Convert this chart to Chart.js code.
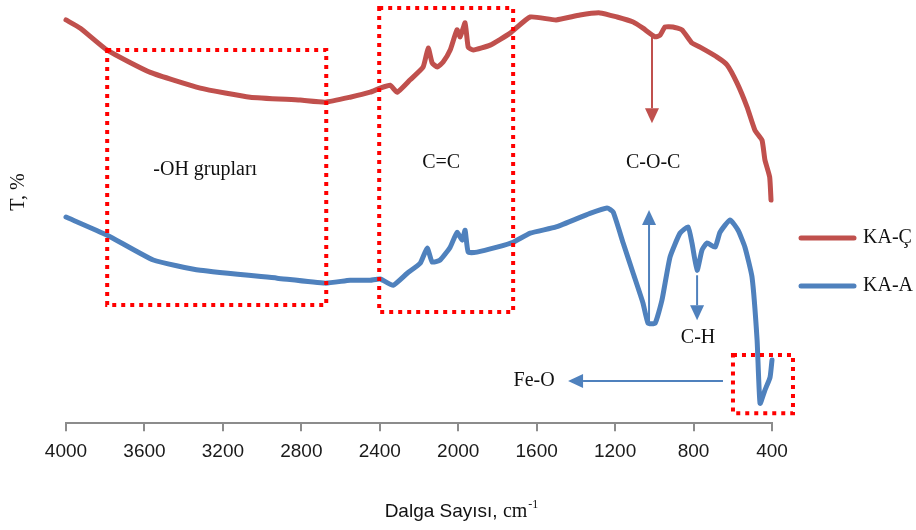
<!DOCTYPE html>
<html>
<head>
<meta charset="utf-8">
<script src="https://cdn.jsdelivr.net/npm/chart.js@4.4.1/dist/chart.umd.min.js"></script>
<style>
  html, body { margin: 0; padding: 0; background: #fff; }
</style>
</head>
<body>
<canvas id="ftir_chart" width="916" height="530"></canvas>
<script>
// data (wavenumber cm-1 / transmittance)
const seriesNames = ['KA-Ç', 'KA-A'];
const xTicks      = [4000, 3600, 3200, 2800, 2400, 2000, 1600, 1200, 800, 400];

const kaC_wn = [4000, 3927, 3790, 3570, 3315, 3061, 2806, 2678, 2551, 2449, 2398, 2347, 2311, 2245, 2179, 2153, 2133, 2107, 2077, 2041, 2006, 1990, 1965, 1949, 1924, 1837, 1735, 1633, 1501, 1379, 1277, 1190, 1108, 1058, 996, 971, 945, 905, 859, 808, 767, 680, 629, 578, 527, 487, 451, 436, 412, 405];
const kaC_T  = [97.6, 95.6, 90.3, 84.9, 81.1, 78.9, 78.2, 77.7, 78.9, 80.1, 81.1, 81.8, 80.1, 83.1, 86.2, 90.8, 87.2, 86.2, 87.4, 90.3, 95.2, 93.5, 96.9, 91.0, 90.3, 91.5, 94.4, 98.3, 97.6, 98.8, 99.3, 98.3, 97.1, 95.6, 93.5, 93.9, 95.9, 95.9, 95.2, 92.0, 91.0, 88.6, 86.7, 82.3, 76.5, 70.9, 68.5, 63.7, 59.6, 54.0];

const kaA_wn = [4000, 3790, 3555, 3315, 2923, 2678, 2551, 2449, 2398, 2332, 2260, 2194, 2158, 2133, 2092, 2041, 2006, 1980, 1965, 1949, 1904, 1802, 1720, 1633, 1501, 1328, 1241, 1210, 1159, 1108, 1058, 1032, 996, 961, 920, 869, 828, 808, 782, 757, 731, 690, 665, 614, 573, 538, 502, 476, 461, 436, 410, 400];
const kaA_T  = [49.9, 45.5, 39.5, 37.0, 35.1, 33.9, 34.6, 34.6, 34.9, 33.4, 36.3, 38.7, 42.4, 39.0, 39.5, 42.6, 46.2, 44.3, 46.7, 41.4, 41.4, 42.6, 43.8, 46.0, 47.5, 50.8, 52.1, 51.1, 43.6, 36.3, 29.1, 24.2, 24.2, 29.8, 40.2, 46.0, 47.5, 43.6, 37.0, 41.9, 43.6, 42.6, 46.2, 49.2, 46.7, 42.6, 35.4, 20.1, 4.8, 8.0, 11.1, 15.3];

// annotations, in data units
const boxes = [
  { from: 3790, to: 2673, top: 90.3, bottom: 28.6 },
  { from: 2403, to: 1720, top: 100.5, bottom: 26.9 },
  { from: 599,  to: 293,  top: 16.5, bottom: 2.4 }
];
const labels = [
  { text: '-OH grupları', x: 3290, y: 61.3 },
  { text: 'C=C',          x: 2087, y: 63.0 },
  { text: 'C-O-C',        x: 1006, y: 63.0 },
  { text: 'C-H',          x: 777,  y: 20.6 },
  { text: 'Fe-O',         x: 1613, y: 10.2 }
];
const arrows = [
  { x1: 1012, y1: 93.5, x2: 1012, y2: 72.6, color: '#c0504d' },
  { x1: 1027, y1: 24.2, x2: 1027, y2: 51.6, color: '#4f81bd' },
  { x1: 782,  y1: 35.8, x2: 782,  y2: 24.9, color: '#4f81bd' },
  { x1: 650,  y1: 10.2, x2: 1440, y2: 10.2, color: '#4f81bd' }
];

const colors = ['#c0504d', '#4f81bd'];

const toPoints = (xs, ys) => xs.map((x, i) => ({ x: x, y: ys[i] }));

// drawing helpers
const drawArrow = (ctx, x1, y1, x2, y2, color) => {
  const ang = Math.atan2(y2 - y1, x2 - x1);
  const headLen = 15, headW = 7;
  const bx = x2 - headLen * Math.cos(ang), by = y2 - headLen * Math.sin(ang);
  ctx.strokeStyle = color;
  ctx.fillStyle = color;
  ctx.lineWidth = 2;
  ctx.setLineDash([]);
  ctx.beginPath();
  ctx.moveTo(x1, y1);
  ctx.lineTo(bx, by);
  ctx.stroke();
  ctx.beginPath();
  ctx.moveTo(x2, y2);
  ctx.lineTo(bx + headW * Math.sin(ang), by - headW * Math.cos(ang));
  ctx.lineTo(bx - headW * Math.sin(ang), by + headW * Math.cos(ang));
  ctx.closePath();
  ctx.fill();
};

const annotationsPlugin = {
  id: 'ftirAnnotations',
  afterDraw(chart) {
    const ctx = chart.ctx;
    const xs = chart.scales.x, ys = chart.scales.y;
    const area = chart.chartArea;
    ctx.save();

    // dotted boxes
    ctx.strokeStyle = '#ff0000';
    ctx.lineWidth = 4;
    ctx.setLineDash([4, 5]);
    boxes.forEach(b => {
      const l = xs.getPixelForValue(b.from), r = xs.getPixelForValue(b.to);
      const t = ys.getPixelForValue(b.top), bt = ys.getPixelForValue(b.bottom);
      ctx.strokeRect(l, t, r - l, bt - t);
    });

    arrows.forEach(a => drawArrow(ctx,
      xs.getPixelForValue(a.x1), ys.getPixelForValue(a.y1),
      xs.getPixelForValue(a.x2), ys.getPixelForValue(a.y2), a.color));

    // labels
    ctx.fillStyle = '#111';
    ctx.font = '20px "Liberation Serif"';
    ctx.textAlign = 'center';
    ctx.textBaseline = 'middle';
    labels.forEach(l => ctx.fillText(l.text, xs.getPixelForValue(l.x), ys.getPixelForValue(l.y)));

    // legend
    seriesNames.forEach((name, i) => {
      const y = 238 + i * 48;
      ctx.strokeStyle = colors[i];
      ctx.lineWidth = 5;
      ctx.lineCap = 'round';
      ctx.beginPath();
      ctx.moveTo(area.right + 29, y);
      ctx.lineTo(area.right + 82, y);
      ctx.stroke();
      ctx.fillStyle = '#111';
      ctx.textAlign = 'left';
      ctx.fillText(name, area.right + 91, y);
    });

    // y title
    ctx.save();
    ctx.translate(19, 192);
    ctx.rotate(-Math.PI / 2);
    ctx.textAlign = 'center';
    ctx.fillText('T, %', 0, 0);
    ctx.restore();

    // x title with superscript
    ctx.textAlign = 'left';
    ctx.textBaseline = 'alphabetic';
    const part1 = 'Dalga Sayısı, ', part2 = 'cm', part3 = '-1';
    ctx.font = '19px "Liberation Sans"';
    const w1 = ctx.measureText(part1).width;
    ctx.font = '20px "Liberation Serif"';
    const w2 = ctx.measureText(part2).width;
    ctx.font = '12px "Liberation Serif"';
    const w3 = ctx.measureText(part3).width;
    let tx = area.left + 395 - (w1 + w2 + w3) / 2;
    const base = 517;
    ctx.font = '19px "Liberation Sans"';
    ctx.fillText(part1, tx, base);
    tx += w1;
    ctx.font = '20px "Liberation Serif"';
    ctx.fillText(part2, tx, base);
    tx += w2;
    ctx.font = '12px "Liberation Serif"';
    ctx.fillText(part3, tx + 1, base - 9);

    ctx.restore();
  }
};

const ftir_chart = new Chart(document.getElementById('ftir_chart'), {
  type: 'line',
  data: {
    datasets: [
      { label: seriesNames[0], data: toPoints(kaC_wn, kaC_T), borderColor: colors[0] },
      { label: seriesNames[1], data: toPoints(kaA_wn, kaA_T), borderColor: colors[1] }
    ].map(ds => Object.assign(ds, {
      borderWidth: 5,
      pointRadius: 0,
      tension: 0.15,
      borderJoinStyle: 'round',
      borderCapStyle: 'round',
      fill: false,
      clip: false
    }))
  },
  options: {
    responsive: false,
    animation: false,
    layout: { padding: { left: 66, right: 144, top: 10, bottom: 58 } },
    plugins: { legend: { display: false }, tooltip: { enabled: false } },
    scales: {
      x: {
        type: 'linear',
        reverse: true,
        min: xTicks[xTicks.length - 1],
        max: xTicks[0],
        ticks: {
          stepSize: 400,
          color: '#1a1a1a',
          font: { family: 'Liberation Sans', size: 19 },
          padding: 9,
          maxRotation: 0,
          autoSkip: false,
          callback: v => String(v)
        },
        grid: { display: true, drawOnChartArea: false, drawTicks: true, tickLength: 8, color: '#8c8c8c', lineWidth: 2 },
        border: { display: true, color: '#8c8c8c', width: 2 }
      },
      y: { display: false, min: 0, max: 100 }
    }
  },
  plugins: [annotationsPlugin]
});
</script>
</body>
</html>
